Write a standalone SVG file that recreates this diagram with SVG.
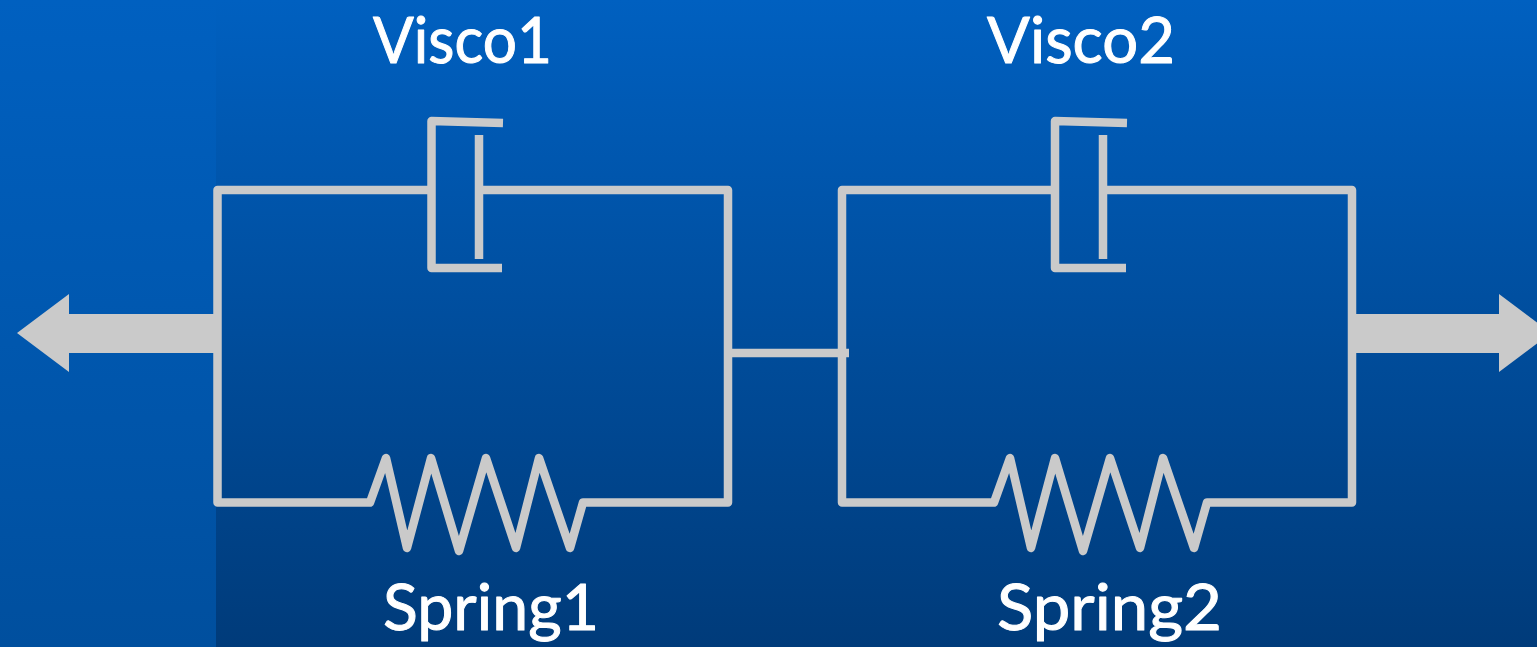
<svg xmlns="http://www.w3.org/2000/svg" width="1537" height="647" viewBox="0 0 1537 647">
<defs>
<linearGradient id="bgL" x1="0" y1="0" x2="0" y2="1"><stop offset="0" stop-color="#0060c0"/><stop offset="1" stop-color="#004f9e"/></linearGradient>
<linearGradient id="bgR" x1="0" y1="0" x2="0" y2="1"><stop offset="0" stop-color="#0060c0"/><stop offset="1" stop-color="#003b7a"/></linearGradient>
</defs>
<style>
.w{fill:none;stroke:#cacaca;stroke-width:8.5;stroke-linejoin:round;stroke-linecap:butt}
.a{fill:#cacaca}
.t{fill:#fff;stroke:#fff;stroke-width:1;stroke-linejoin:round;font-family:"Lato","Open Sans",sans-serif;font-size:64px}
</style>
<rect width="216" height="647" fill="url(#bgL)"/>
<rect x="216" width="1321" height="647" fill="url(#bgR)"/>
<g id="connectors">
<path class="w" d="M729 353H849"/>
</g>
<g id="arrow-left"><polygon class="a" points="17,333 69,294 69,314 216,314 216,353 69,353 69,372"/></g>
<g id="arrow-right"><polygon class="a" points="1354,314 1499,314 1499,294 1551,333 1499,372 1499,353 1354,353"/></g>
<g id="unit1">
<path class="w" d="M432 190H217.500V502.500H370L386 458L407 548L431 458L459 551L486 458L516 548L539 458L570 548L583 502.500H728V190H480"/>
<path class="w" d="M503 123L431.500 121V268H502"/>
<path class="w" d="M479 135V259"/>
</g>
<g id="unit2">
<path class="w" d="M1056 190H842V502.500H994L1010 458L1031 548L1055 458L1083 551L1110 458L1140 548L1163 458L1194 548L1207 502.500H1352V190H1104"/>
<path class="w" d="M1127 123L1055 121V268H1126"/>
<path class="w" d="M1103 135V259"/>
</g>
<g id="label-visco1"><text class="t" x="373" y="63" textLength="179" lengthAdjust="spacingAndGlyphs">Visco1</text></g>
<g id="label-visco2"><text class="t" x="987" y="63" textLength="188" lengthAdjust="spacingAndGlyphs">Visco2</text></g>
<g id="label-spring1"><text class="t" x="383" y="630" textLength="216" lengthAdjust="spacingAndGlyphs">Spring1</text></g>
<g id="label-spring2"><text class="t" x="997" y="630" textLength="225" lengthAdjust="spacingAndGlyphs">Spring2</text></g>
</svg>
